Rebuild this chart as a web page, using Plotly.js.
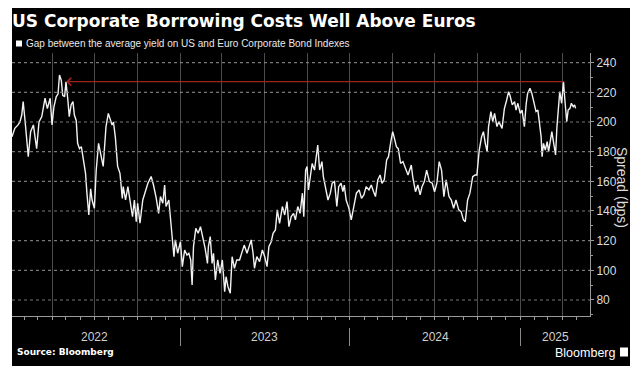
<!DOCTYPE html>
<html>
<head>
<meta charset="utf-8">
<script src="https://cdn.plot.ly/plotly-3.0.1.min.js"></script>
<style>html,body{margin:0;padding:0;background:#fff;}#chart{width:638px;height:366px;}</style>
</head>
<body>
<div id="chart"></div>
<script>
// Gap between average yield on US and Euro corporate bond indexes (bps)
const dates = [
"2022-01-05","2022-01-11","2022-01-18","2022-01-22","2022-01-26","2022-01-29","2022-02-02","2022-02-05","2022-02-09","2022-02-14",
"2022-02-20","2022-02-23","2022-02-27","2022-03-04","2022-03-10","2022-03-17","2022-03-22","2022-03-28","2022-04-01","2022-04-05",
"2022-04-10","2022-04-14","2022-04-17","2022-04-21","2022-04-24","2022-04-28","2022-05-01","2022-05-05","2022-05-08","2022-05-12",
"2022-05-16","2022-05-19","2022-05-23","2022-05-26","2022-05-30","2022-06-03","2022-06-08","2022-06-12","2022-06-15","2022-06-19",
"2022-06-23","2022-06-26","2022-07-01","2022-07-05","2022-07-10","2022-07-15","2022-07-20","2022-07-26","2022-07-31",
"2022-08-08","2022-08-11","2022-08-15","2022-08-20","2022-08-25","2022-08-30","2022-09-01","2022-09-06","2022-09-11","2022-09-16",
"2022-09-21","2022-09-25","2022-09-29","2022-10-02","2022-10-07","2022-10-13","2022-10-19","2022-10-24","2022-10-31","2022-11-05",
"2022-11-11","2022-11-16","2022-11-20","2022-11-25","2022-11-29","2022-12-02","2022-12-08","2022-12-11","2022-12-15","2022-12-19",
"2022-12-22","2022-12-27","2023-01-02","2023-01-06","2023-01-11","2023-01-16","2023-01-20","2023-01-24","2023-01-27","2023-01-30",
"2023-02-04","2023-02-09","2023-02-14","2023-02-19","2023-02-24","2023-03-01","2023-03-03",
"2023-03-07","2023-03-11","2023-03-14","2023-03-18","2023-03-23","2023-03-28","2023-04-02","2023-04-07","2023-04-10","2023-04-14",
"2023-04-19","2023-04-23","2023-04-28","2023-05-03","2023-05-09","2023-05-14","2023-05-19","2023-05-25","2023-05-29","2023-06-03",
"2023-06-07","2023-06-10","2023-06-15","2023-06-21","2023-06-27","2023-07-02","2023-07-07","2023-07-11","2023-07-16","2023-07-20",
"2023-07-25","2023-07-29","2023-08-03","2023-08-09","2023-08-14","2023-08-19","2023-08-23","2023-08-28","2023-09-02","2023-09-06",
"2023-09-11","2023-09-16","2023-09-21","2023-09-24","2023-09-28","2023-10-01","2023-10-04",
"2023-10-06","2023-10-12","2023-10-17","2023-10-21","2023-10-24","2023-10-28","2023-11-02","2023-11-05","2023-11-10","2023-11-15",
"2023-11-20","2023-11-24","2023-11-29","2023-12-04","2023-12-08","2023-12-13","2023-12-17","2023-12-20","2023-12-24","2023-12-30",
"2024-01-04","2024-01-09","2024-01-15","2024-01-21","2024-01-26","2024-01-31","2024-02-05","2024-02-11","2024-02-16","2024-02-21",
"2024-02-25","2024-03-01","2024-03-06","2024-03-10","2024-03-15","2024-03-20","2024-03-24","2024-03-29","2024-04-02","2024-04-05",
"2024-04-10","2024-04-14","2024-04-19","2024-04-24","2024-04-30","2024-05-05",
"2024-05-12","2024-05-15","2024-05-21","2024-05-26","2024-05-31","2024-06-04","2024-06-09","2024-06-14","2024-06-20","2024-06-26",
"2024-07-01","2024-07-06","2024-07-11","2024-07-16","2024-07-21","2024-07-26","2024-08-01","2024-08-06","2024-08-11","2024-08-16",
"2024-08-22","2024-08-27","2024-09-01","2024-09-05","2024-09-10","2024-09-15","2024-09-21","2024-09-26","2024-09-30","2024-10-05",
"2024-10-10","2024-10-14","2024-10-18","2024-10-22","2024-10-25","2024-10-30","2024-11-03","2024-11-07","2024-11-12","2024-11-16",
"2024-11-23","2024-11-28","2024-12-03","2024-12-07","2024-12-10","2024-12-15","2024-12-20","2024-12-23","2024-12-27","2025-01-01",
"2025-01-05","2025-01-10","2025-01-14","2025-01-17","2025-01-22","2025-01-26","2025-01-31","2025-02-04","2025-02-08","2025-02-11",
"2025-02-15","2025-02-17","2025-02-20","2025-02-24","2025-02-28","2025-03-03","2025-03-07","2025-03-10","2025-03-14","2025-03-18",
"2025-03-21","2025-03-24","2025-03-27","2025-03-31","2025-04-04","2025-04-07","2025-04-11","2025-04-14","2025-04-18","2025-04-21",
"2025-04-25","2025-04-28","2025-04-30"
];
const spread = [
190.1,195.7,198,200,204.7,213.7,201,188,176.6,193.5,
198,191,182,200,203.6,216,209,216,198,210,
217,219,231.7,228,218,217,227,215,203.6,211.5,
213.7,204.7,201,185.6,182,183.4,174.4,165.4,152,137.3,
155,147.4,141.8,167.6,185.6,176.6,170,196.9,205.8,
198,200,190,170,165.4,148.5,156.4,147.4,156.4,147.4,
136.2,147.4,132.8,145.2,131.7,147.4,153,158.7,163.2,157.5,
148.5,138.4,149.7,145.2,157.5,143,147.4,136.2,118.2,109.2,
120.5,111.5,119.3,102.5,113.7,110.3,111.5,107,90.1,116,
128.3,125,129.4,122.7,114.8,104.7,116,
122.7,104.7,111.5,93.5,107,98,107,85.6,95.7,89,
84.5,109.2,101.4,107,107,111.5,117,111.5,116,120.5,
111.5,101.4,109.2,105.8,113.7,109.2,102.5,116,119.3,125,
127.2,140.7,131.7,143,137.3,146.3,129.4,136.2,138.4,134,
143,138.4,152,136.2,167.6,170,154.2,
158.7,172,167.6,176.6,184.5,167.6,173.3,163.2,156.4,147.4,
152,158.7,159.8,143,156.4,158.7,153,157.5,147.4,141.8,
134,143,152,154.2,148.5,150.8,156.4,154.2,157.5,153,
149.7,161,164.3,158.7,161,174.4,176.6,186.7,193.5,190,
183.4,182,172,173.3,167.6,164.3,
171,163.2,153,157.5,150.8,156.4,159.8,167.6,159.8,158.7,
153,158.7,173.3,167.6,149.7,161,149.7,147.4,141.8,147.4,
140.7,139.6,134,132.8,147.4,152,163.2,164.3,164.3,181.1,
190,193.5,185.6,180,196.9,207,200.2,205.8,196.9,200.2,
195.7,209,214.8,220.4,218,211.5,213.7,208,212.6,205.8,
208,196.9,212.6,219.3,222.7,219.3,212.6,207,208,199,
190,176.6,185.6,181.1,186.7,180,189,193.5,185.6,177.8,
196.9,212.6,220.4,212.6,227.2,214.8,200.2,208,209.2,212.6,
210.3,211.5,209.2
];
const yTickVals = [80, 100, 120, 140, 160, 180, 200, 220, 240];
const yearLabels = ["2022","2023","2024","2025"];
const yearLabelDates = ["2022-07-02","2023-07-02","2024-07-02","2025-03-17"];
const xRange = ["2022-01-05","2025-05-31"];
const yRange = [69.2, 246.5];
// red reference line: from the April 2025 high back to the May 2022 level
const refLevel = 227.2;
const refFrom = "2025-04-08";
const refTo = "2022-05-01";

const W = 638, H = 366, ML = 12, MR = 48, MT = 53, MB = 0;
const PW = W - ML - MR, PH = H - MT - MB;
const px = v => (v - ML) / PW;
const py = v => (H - MB - v) / PH;

const axisGray = '#9a9a9a';
const traces = [
  {x: dates, y: spread, type: 'scatter', mode: 'lines', line: {color: '#f2f2f2', width: 1.4}, hoverinfo: 'skip', showlegend: false},
  {x: dates, y: spread, xaxis: 'x2', yaxis: 'y2', type: 'scatter', mode: 'lines', opacity: 0, line: {width: 0}, hoverinfo: 'skip', showlegend: false}
];

const annotations = [
  {x: refTo, y: refLevel, ax: refFrom, ay: refLevel, axref: 'x', ayref: 'y', xref: 'x', yref: 'y',
   text: '', showarrow: true, arrowhead: 4, arrowsize: 1.2, arrowwidth: 1.3, arrowcolor: '#a0221e', standoff: 0},
  {xref: 'paper', yref: 'paper', x: px(23.5), y: py(43.7), xanchor: 'left', yanchor: 'middle',
   text: 'Gap between the average yield on US and Euro Corporate Bond Indexes', showarrow: false,
   font: {family: 'Liberation Sans', size: 10, color: '#e8e8e8'}},
  {xref: 'paper', yref: 'paper', x: px(622), y: py(187), xanchor: 'center', yanchor: 'middle', textangle: 90,
   text: 'Spread (bps)', showarrow: false, font: {family: 'Liberation Sans', size: 14, color: '#dcdcdc'}},
  {xref: 'paper', yref: 'paper', x: px(15), y: py(352), xanchor: 'left', yanchor: 'middle',
   text: '<b>Source: Bloomberg</b>', showarrow: false, font: {family: 'DejaVu Sans', size: 9, color: '#ffffff'}},
  {xref: 'paper', yref: 'paper', x: px(617), y: py(352.5), xanchor: 'right', yanchor: 'middle',
   text: 'Bloomberg', showarrow: false, font: {family: 'Liberation Sans', size: 12.5, color: '#ffffff'}}
];
yearLabels.forEach((t, i) => annotations.push({
  xref: 'x', yref: 'paper', x: yearLabelDates[i], y: py(336.5), xanchor: 'center', yanchor: 'middle',
  text: t, showarrow: false, font: {family: 'Liberation Sans', size: 12, color: '#d0d0d0'}
}));

const shapes = [
  {type: 'rect', xref: 'paper', yref: 'paper', x0: px(12), x1: px(630), y0: py(368), y1: py(8),
   fillcolor: '#000000', line: {width: 0}, layer: 'below'},
  {type: 'rect', xref: 'paper', yref: 'paper', x0: px(16), x1: px(22), y0: py(46.5), y1: py(40.5),
   fillcolor: '#ffffff', line: {width: 0}},
  {type: 'rect', xref: 'paper', yref: 'paper', x0: px(620), x1: px(628), y0: py(356.5), y1: py(347.5),
   fillcolor: '#ffffff', line: {width: 0}}
];
// horizontal dotted grid at each y tick (drawn above so it is never hidden)
yTickVals.forEach(v => shapes.push({
  type: 'line', xref: 'paper', yref: 'y', x0: 0, x1: 1, y0: v, y1: v,
  line: {color: '#8c8c8c', width: 1.2, dash: '3px,3px'}, layer: 'above', opacity: 0.85
}));

const layout = {
  width: W, height: H,
  margin: {l: ML, r: MR, t: MT, b: MB, pad: 0},
  paper_bgcolor: '#ffffff',
  plot_bgcolor: 'rgba(0,0,0,0)',
  showlegend: false,
  title: {
    text: 'US Corporate Borrowing Costs Well Above Euros',
    x: ML / W, xanchor: 'left', xref: 'container',
    y: 1 - 21.5 / H, yanchor: 'middle', yref: 'container',
    font: {family: 'DejaVu Sans', size: 17, color: '#ffffff', weight: 'bold'}
  },
  xaxis: {
    type: 'date', range: xRange, domain: [0, 1], anchor: 'y',
    dtick: 'M3', tick0: '2022-01-01',
    showgrid: true, gridcolor: '#4c4c4c', gridwidth: 1,
    ticks: 'outside', ticklen: 3, tickcolor: axisGray, tickwidth: 1,
    minor: {dtick: 'M1', ticks: 'outside', ticklen: 3, tickcolor: axisGray, showgrid: false},
    showticklabels: false, showline: true, linecolor: axisGray, linewidth: 1,
    zeroline: false
  },
  yaxis: {
    range: yRange, domain: [py(316), 1], side: 'right', anchor: 'x',
    tickmode: 'array', tickvals: yTickVals,
    ticks: 'outside', ticklen: 3, tickcolor: axisGray,
    minor: {dtick: 10, tick0: 80, ticks: 'outside', ticklen: 2, tickcolor: axisGray, showgrid: false},
    showline: true, linecolor: axisGray, linewidth: 1,
    showgrid: false,
    zeroline: false,
    tickfont: {family: 'Liberation Sans', size: 12, color: '#dcdcdc'}
  },
  xaxis2: {
    type: 'date', range: xRange, domain: [0, 1], anchor: 'y2',
    dtick: 'M12', tick0: '2022-01-01',
    ticks: 'outside', ticklen: 18, tickcolor: '#8a8a8a', tickwidth: 1,
    showticklabels: false, showgrid: false, showline: false, zeroline: false
  },
  yaxis2: {
    range: [0, 1], domain: [py(327), py(322)], anchor: 'x2',
    visible: false, showgrid: false, zeroline: false
  },
  shapes: shapes,
  annotations: annotations
};

Plotly.newPlot('chart', traces, layout, {staticPlot: true, displayModeBar: false});
</script>
</body>
</html>
